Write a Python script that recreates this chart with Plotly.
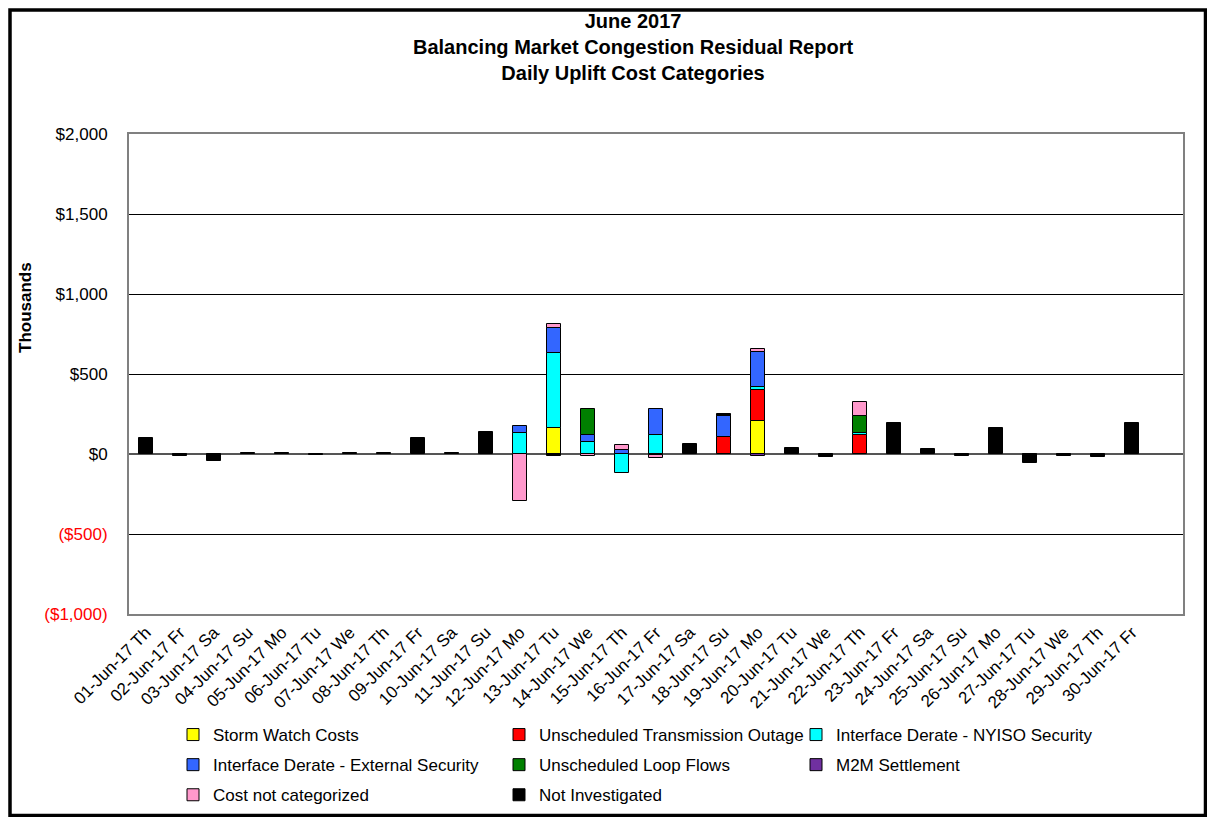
import plotly.graph_objects as go

# Daily uplift cost categories, June 2017 ($ thousands)
days = [
    "01-Jun-17 Th", "02-Jun-17 Fr", "03-Jun-17 Sa", "04-Jun-17 Su", "05-Jun-17 Mo",
    "06-Jun-17 Tu", "07-Jun-17 We", "08-Jun-17 Th", "09-Jun-17 Fr", "10-Jun-17 Sa",
    "11-Jun-17 Su", "12-Jun-17 Mo", "13-Jun-17 Tu", "14-Jun-17 We", "15-Jun-17 Th",
    "16-Jun-17 Fr", "17-Jun-17 Sa", "18-Jun-17 Su", "19-Jun-17 Mo", "20-Jun-17 Tu",
    "21-Jun-17 We", "22-Jun-17 Th", "23-Jun-17 Fr", "24-Jun-17 Sa", "25-Jun-17 Su",
    "26-Jun-17 Mo", "27-Jun-17 Tu", "28-Jun-17 We", "29-Jun-17 Th", "30-Jun-17 Fr",
]

storm_watch = [0, 0, 0, 0, 0, 0, 0, 0, 0, 0, 0, 0, 160, 0, 0, 0, 0, 0, 209, 0, 0, 0, 0, 0, 0, 0, 0, 0, 0, 0]
trans_outage = [0, 0, 0, 0, 0, 0, 0, 0, 0, 0, 0, 0, 0, 0, 0, 0, 0, 108, 194, 0, 0, 117, 0, 0, 0, 0, 0, 0, 0, 0]
nyiso_security = [0, 0, 0, 0, 0, 0, 0, 0, 0, 0, 0, 130, 470, 75, -118, 117, 0, 0, 16, 0, 0, 15, 0, 0, 0, 0, 0, 0, 0, 0]
external_security = [0, 0, 0, 0, 0, 0, 0, 0, 0, 0, 0, 45, 160, 42, 25, 162, 0, 130, 219, 0, 0, 0, 0, 0, 0, 0, 0, 0, 0, 0]
loop_flows = [0, 0, 0, 0, 0, 0, 0, 0, 0, 0, 0, 0, 0, 166, 0, -8, 0, 0, 0, 0, 0, 108, 0, 0, 0, 0, 0, 0, 0, 0]
m2m = [0, 0, 0, 0, 0, 0, 0, 0, 0, 0, 0, 0, 0, 0, 0, 0, 0, 0, -12, 0, 0, 0, 0, 0, 0, 0, 0, 0, 0, 0]
not_categorized = [0, 0, 0, 0, 0, 0, 0, 0, 0, 0, 0, -295, 25, -15, 33, -20, 0, 0, 17, 0, 0, 88, 0, 0, 0, 0, 0, 0, 0, 0]
not_investigated = [100, -10, -45, 8, 8, -8, 8, 8, 100, 8, 140, 0, -10, 0, 0, 0, 60, 12, 0, 37, -18, 0, 195, 33, -10, 160, -55, -10, -20, 195]

y_ticks = [-1000, -500, 0, 500, 1000, 1500, 2000]
y_ticktext = ["<span style='color:#ff0000'>($1,000)</span>", "<span style='color:#ff0000'>($500)</span>",
              "$0", "$500", "$1,000", "$1,500", "$2,000"]

FONT = "Liberation Sans, Arial, sans-serif"

# name, values, color, legend column
series = [
    ("Storm Watch Costs", storm_watch, "#ffff00", "legend"),
    ("Unscheduled Transmission Outage", trans_outage, "#ff0000", "legend2"),
    ("Interface Derate - NYISO Security", nyiso_security, "#00ffff", "legend3"),
    ("Interface Derate - External Security", external_security, "#3366ff", "legend"),
    ("Unscheduled Loop Flows", loop_flows, "#008000", "legend2"),
    ("M2M Settlement", m2m, "#7030a0", "legend3"),
    ("Cost not categorized", not_categorized, "#ff99cc", "legend"),
    ("Not Investigated", not_investigated, "#000000", "legend2"),
]

# plot area: 1054 x 480 px
def px(x):
    return (x - 129) / 1054

def py(y):
    return (614 - y) / 480

fig = go.Figure()
for name, vals, color, leg in series:
    fig.add_trace(go.Bar(
        x=days,
        y=[v if v else None for v in vals],
        name=name,
        legend=leg,
        legendgroup=name,
        marker=dict(color=color, line=dict(color="#000000", width=1)),
        width=0.41,
    ))

leg_common = dict(
    orientation="v", yanchor="top", y=py(717), xanchor="left",
    font=dict(family=FONT, size=17, color="#000000"),
    tracegroupgap=5, bgcolor="rgba(0,0,0,0)", itemclick=False,
)

fig.update_layout(
    width=1199, height=809,
    barmode="relative",
    bargap=0,
    paper_bgcolor="white", plot_bgcolor="white",
    margin=dict(l=121, r=24, t=126, b=203, autoexpand=False),
    font=dict(family=FONT, size=17, color="#000000"),
    legend=dict(x=px(173), **leg_common),
    legend2=dict(x=px(499), **leg_common),
    legend3=dict(x=px(796), **leg_common),
    showlegend=True,
)

fig.update_xaxes(
    type="category",
    range=[-0.5, 30.5],
    tickangle=-45,
    tickfont=dict(family=FONT, size=17, color="#000000"),
    showgrid=False,
    showline=True, linecolor="#808080", linewidth=2, mirror=True,
    ticks="", automargin=False,
)

fig.update_yaxes(
    range=[-1000, 2000],
    tickvals=y_ticks, ticktext=y_ticktext,
    tickfont=dict(family=FONT, size=17, color="#000000"),
    ticklabelstandoff=16,
    showgrid=True, gridcolor="#000000", gridwidth=1,
    zeroline=True, zerolinecolor="#555555", zerolinewidth=2,
    showline=True, linecolor="#808080", linewidth=2, mirror=True,
    ticks="", automargin=False,
)

# chart title
fig.add_annotation(
    text="<b>June 2017<br>Balancing Market Congestion Residual Report<br>Daily Uplift Cost Categories</b>",
    xref="paper", yref="paper", x=px(633), y=py(47),
    xanchor="center", yanchor="middle", showarrow=False,
    font=dict(family=FONT, size=20, color="#000000"),
)

# "Thousands" axis title
fig.add_annotation(
    text="<b>Thousands</b>", textangle=-90,
    xref="paper", yref="paper", x=px(25), y=py(308),
    xanchor="center", yanchor="middle", showarrow=False,
    font=dict(family=FONT, size=17, color="#000000"),
)

# outer chart frame
fig.add_shape(
    type="rect", xref="paper", yref="paper",
    x0=px(10), x1=px(1205.5),
    y0=py(815.5), y1=py(10),
    line=dict(color="#000000", width=3.5),
)

fig.write_html("out.html")
